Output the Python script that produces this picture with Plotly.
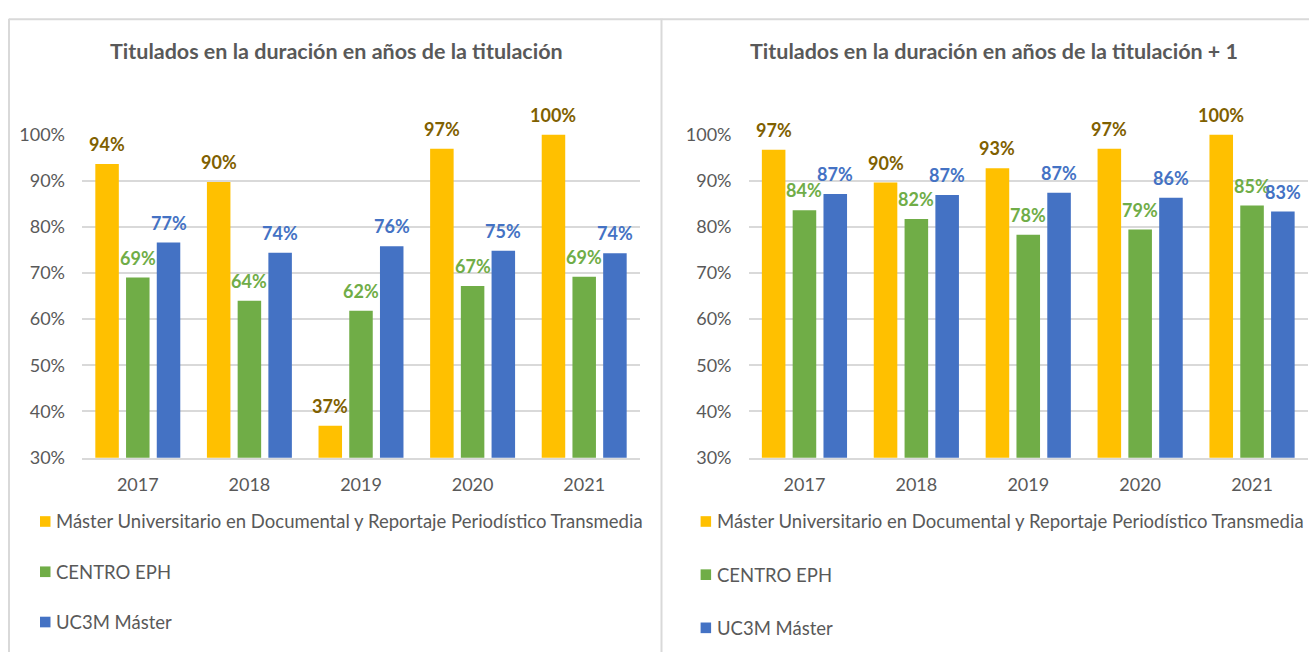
import plotly.graph_objects as go

W, H = 1309, 662

years = ["2017", "2018", "2019", "2020", "2021"]
series_names = [
    "Máster Universitario en Documental y Reportaje Periodístico Transmedia",
    "CENTRO EPH",
    "UC3M Máster",
]
bar_colors = ["#FFC000", "#70AD47", "#4472C4"]
label_colors = ["#7F6000", "#70AD47", "#4472C4"]

# Chart 1: Titulados en la duración en años de la titulación
c1_master = [0.936, 0.897, 0.369, 0.969, 1.00]
c1_centro = [0.690, 0.640, 0.618, 0.672, 0.692]
c1_uc3m = [0.766, 0.744, 0.758, 0.748, 0.743]

# Chart 2: Titulados en la duración en años de la titulación + 1
c2_master = [0.967, 0.896, 0.927, 0.969, 1.00]
c2_centro = [0.836, 0.817, 0.783, 0.794, 0.846]
c2_uc3m = [0.871, 0.869, 0.874, 0.863, 0.833]

titles = [
    "Titulados en la duración en años de la titulación",
    "Titulados en la duración en años de la titulación + 1",
]

y_ticks = [0.3, 0.4, 0.5, 0.6, 0.7, 0.8, 0.9, 1.0]

FONT = "Lato, Calibri, 'Open Sans', sans-serif"
GREY = "#595959"
GRID = "#D9D9D9"

def px_x(v):
    return v / W

def px_y(v):
    return 1 - v / H

x_domains = [[px_x(82), px_x(640)], [px_x(748.5), px_x(1308)]]
y_domain = [px_y(461), px_y(126.7)]
title_x = [336, 994]
legend_x = [40, 700.6]
legend_rows = [[527, 579, 631], [527, 582, 637]]

BARGAP = 0.174
BARGROUPGAP = 0.235

fig = go.Figure()
annotations = []
shapes = []

charts = [
    [c1_master, c1_centro, c1_uc3m],
    [c2_master, c2_centro, c2_uc3m],
]

for ci, chart in enumerate(charts):
    xa = "x" if ci == 0 else "x2"
    ya = "y" if ci == 0 else "y2"
    nser = len(chart)
    slot = (1 - BARGAP) / nser  # in category units
    for si, vals in enumerate(chart):
        fig.add_trace(go.Bar(
            x=years, y=vals, name=series_names[si],
            marker=dict(color=bar_colors[si], line=dict(width=0)),
            xaxis=xa, yaxis=ya, showlegend=False,
        ))
        for idx, v in enumerate(vals):
            annotations.append(dict(
                x=idx + (si - (nser - 1) / 2) * slot, y=v, xref=xa, yref=ya,
                text=f"{int(v * 100 + 0.5)}%",
                showarrow=False, yshift=20,
                font=dict(family=FONT, size=18, color=label_colors[si], weight="bold"),
            ))
    # title
    annotations.append(dict(
        x=px_x(title_x[ci]), y=px_y(40), xref="paper", yref="paper",
        text=f"<b>{titles[ci]}</b>", showarrow=False,
        xanchor="center", yanchor="middle",
        font=dict(family=FONT, size=21.5, color=GREY),
    ))
    # legend
    for si, name in enumerate(series_names):
        yc = legend_rows[ci][si]
        lx = legend_x[ci]
        shapes.append(dict(
            type="rect", xref="paper", yref="paper",
            x0=px_x(lx), x1=px_x(lx + 10.5),
            y0=px_y(yc + 5.5), y1=px_y(yc - 5.5),
            fillcolor=bar_colors[si], line=dict(width=0),
        ))
        annotations.append(dict(
            x=px_x(lx + 14), y=px_y(yc), xref="paper", yref="paper",
            text=name, showarrow=False, xanchor="left", yanchor="middle",
            font=dict(family=FONT, size=18.5, color=GREY),
        ))

# panel borders
shapes += [
    dict(type="line", xref="paper", yref="paper", x0=px_x(9), x1=1, y0=px_y(7.5), y1=px_y(7.5),
         line=dict(color=GRID, width=2)),
    dict(type="line", xref="paper", yref="paper", x0=px_x(9), x1=px_x(9), y0=px_y(7), y1=0,
         line=dict(color=GRID, width=2)),
    dict(type="line", xref="paper", yref="paper", x0=px_x(661.5), x1=px_x(661.5), y0=px_y(7), y1=0,
         line=dict(color=GRID, width=2)),
]

axis_font = dict(family=FONT, size=18, color=GREY)
for ci in range(2):
    sfx = "" if ci == 0 else "2"
    fig.update_layout(**{
        f"xaxis{sfx}": dict(
            domain=x_domains[ci], type="category", anchor="y" + sfx,
            range=[-0.5, len(years) - 0.5], autorange=False,
            showgrid=False, showline=True, linecolor=GRID, linewidth=1.5,
            ticks="", tickfont=axis_font, ticklabelstandoff=10, zeroline=False,
        ),
        f"yaxis{sfx}": dict(
            domain=y_domain, anchor="x" + sfx, range=[0.2999, 1.0001], autorange=False,
            tickvals=y_ticks, tickformat=".0%", showgrid=True, gridcolor=GRID,
            gridwidth=1.5, zeroline=False, showline=False, ticks="",
            tickfont=axis_font, ticklabelstandoff=16,
        ),
    })

fig.update_layout(
    width=W, height=H, autosize=False,
    margin=dict(l=0, r=0, t=0, b=0),
    paper_bgcolor="white", plot_bgcolor="white",
    barmode="group", bargap=BARGAP, bargroupgap=BARGROUPGAP,
    annotations=annotations, shapes=shapes,
    font=dict(family=FONT, color=GREY),
)

fig.write_html(
    "out.html",
    config={"displayModeBar": False},
    post_script="document.body.style.margin='0';document.body.style.overflow='hidden';",
)
